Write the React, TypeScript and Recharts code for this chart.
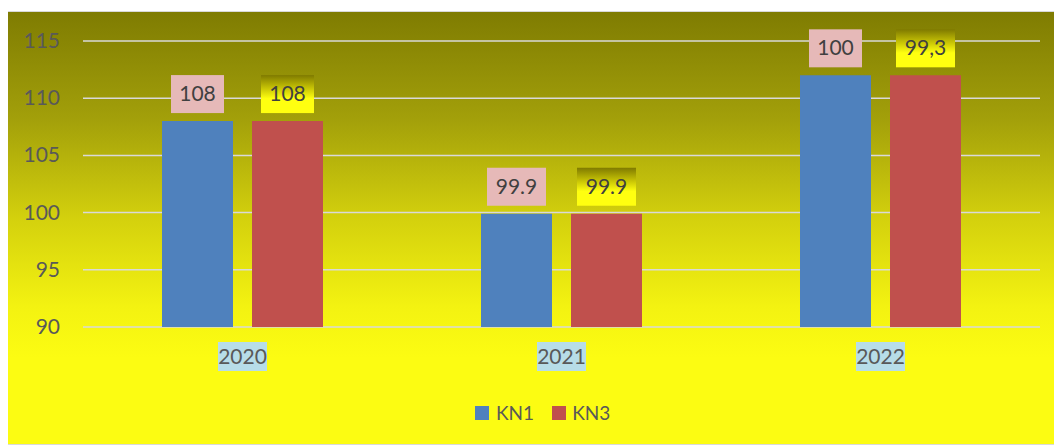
import React from 'react';
import { Bar, BarChart, CartesianGrid, LabelList, XAxis, YAxis } from 'recharts';

// values
const years = ['2020', '2021', '2022'];
const kn1 = [108, 99.9, 112];
const kn3 = [108, 99.9, 112];
const kn1Labels = ['108', '99.9', '100'];
const kn3Labels = ['108', '99.9', '99,3'];
const yTicks = [90, 95, 100, 105, 110, 115];

const data = years.map((year, i) => ({ year, kn1: kn1[i], kn3: kn3[i] }));

const FONT = 'Lato, "Open Sans", sans-serif';

const YTick = ({ x, y, payload }: any) => (
  <text x={x - 23} y={y} dy={7} textAnchor="end" fontSize={21} fill="#595959" fontFamily={FONT}>
    {payload.value}
  </text>
);

const XTick = ({ x, y, payload }: any) => (
  <g>
    <rect x={x - 24.5} y={y + 15} width={49} height={29} fill="#b7dde8" />
    <text x={x} y={y + 30} dy={7} textAnchor="middle" fontSize={21} fill="#595959" fontFamily={FONT}>
      {payload.value}
    </text>
  </g>
);

const makeLabel = (labels: string[], fill: string) => (props: any) => {
  const { x, y, width, index } = props;
  const text = labels[index];
  const w = 53 + (text.length - 3) * 6;
  const cx = x + width / 2;
  const top = y - 8 - 38;
  return (
    <g>
      <rect x={cx - w / 2} y={top} width={w} height={38} fill={fill} />
      <text x={cx} y={top + 19} dy={7} textAnchor="middle" fontSize={21} fill="#404040" fontFamily={FONT}>
        {text}
      </text>
    </g>
  );
};

export default function App() {
  return (
    <div
      style={{
        position: 'relative',
        marginLeft: -1,
        marginTop: 3,
        width: 1053,
        height: 432,
        border: '1px solid #d9d9d9',
        background: 'linear-gradient(to bottom, #7f7c02 0%, #a3a00a 25%, #d4d10d 48%, #f3f211 68%, #fcfc12 80%, #fcfc12 100%)',
        fontFamily: FONT,
      }}
    >
      <BarChart
        width={1053}
        height={432}
        data={data}
        margin={{ top: 29, right: 21, left: 0, bottom: 87 }}
        barSize={71}
        barGap={19}
      >
        <defs>
          <linearGradient id="kn3Label" x1="0" y1="0" x2="0" y2="1">
            <stop offset="0%" stopColor="#7f7a00" />
            <stop offset="35%" stopColor="#c9c505" />
            <stop offset="62%" stopColor="#ffff10" />
            <stop offset="100%" stopColor="#ffff10" />
          </linearGradient>
        </defs>
        <CartesianGrid vertical={false} stroke="#d9d9d9" strokeWidth={1.5} />
        <XAxis
          dataKey="year"
          axisLine={false}
          tickLine={false}
          tickSize={0}
          tickMargin={0}
          height={30}
          tick={<XTick />}
        />
        <YAxis
          domain={[90, 115]}
          ticks={yTicks}
          axisLine={false}
          tickLine={false}
          tickSize={0}
          tickMargin={0}
          width={75}
          tick={<YTick />}
          allowDataOverflow
        />
        <Bar dataKey="kn1" name="KN1" fill="#4f81bd" isAnimationActive={false}>
          <LabelList dataKey="kn1" content={makeLabel(kn1Labels, '#e6b9b8')} />
        </Bar>
        <Bar dataKey="kn3" name="KN3" fill="#c0504d" isAnimationActive={false}>
          <LabelList dataKey="kn3" content={makeLabel(kn3Labels, 'url(#kn3Label)')} />
        </Bar>
      </BarChart>
      <div
        style={{
          position: 'absolute',
          top: 389,
          left: 467,
          display: 'flex',
          alignItems: 'center',
          fontSize: 19,
          color: '#595959',
        }}
      >
        <span style={{ width: 14, height: 14, background: '#4f81bd', display: 'inline-block', marginRight: 7 }} />
        <span style={{ marginRight: 18 }}>KN1</span>
        <span style={{ width: 14, height: 14, background: '#c0504d', display: 'inline-block', marginRight: 6 }} />
        <span>KN3</span>
      </div>
    </div>
  );
}
